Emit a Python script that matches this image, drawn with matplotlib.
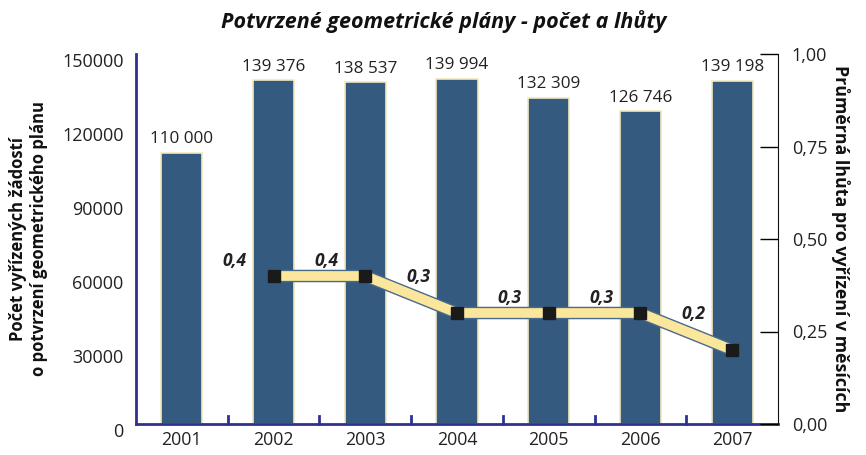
import numpy as np
import matplotlib.pyplot as plt
import matplotlib.patheffects as pe
import matplotlib.transforms as mtransforms

years = ['2001', '2002', '2003', '2004', '2005', '2006', '2007']
pocet = [110000, 139376, 138537, 139994, 132309, 126746, 139198]
pocet_labels = ['110 000', '139 376', '138 537', '139 994', '132 309', '126 746', '139 198']
lhuta_years = ['2002', '2003', '2004', '2005', '2006', '2007']
lhuta = [0.4, 0.4, 0.3, 0.3, 0.3, 0.2]
lhuta_labels = ['0,4', '0,4', '0,3', '0,3', '0,3', '0,2']
left_ticks = [0, 30000, 60000, 90000, 120000, 150000]
right_ticks = [0, 0.25, 0.5, 0.75, 1.0]
right_ticklabels = ['0,00', '0,25', '0,50', '0,75', '1,00']

plt.rcParams['font.family'] = ['Open Sans', 'DejaVu Sans']

fig = plt.figure(figsize=(8.66, 4.55), dpi=100)
ax = fig.add_axes([136/866, 1 - 424/455, 642/866, 370/455])

x = np.arange(len(years))
ax.bar(x, pocet, width=0.45, color='#355a80', edgecolor='#f3e7bd', linewidth=1.2, zorder=2)
for xi, v, lab in zip(x, pocet, pocet_labels):
    ax.annotate(lab, (xi, v), xytext=(0, 4), textcoords='offset points',
                ha='center', va='bottom', fontsize=12.3, color='#222222')

ax.set_xlim(-0.5, len(years) - 0.5)
ax.set_ylim(0, 150000)
ax.set_yticks(left_ticks)
ax.set_yticklabels([str(t) for t in left_ticks], fontsize=13, color='#222222')
ax.tick_params(axis='y', length=0, pad=9)
# labels sit a bit lower than the ticks in the original
shift = mtransforms.ScaledTranslation(0, -6/100, fig.dpi_scale_trans)
for t in ax.get_yticklabels():
    t.set_transform(t.get_transform() + shift)
ax.set_xticks(x)
ax.set_xticklabels(years, fontsize=12.8, color='#222222')
ax.tick_params(axis='x', length=0, pad=5)
for b in np.arange(0.5, len(years) - 1, 1.0):
    ax.plot([b, b], [0, 3200], color='#2e3192', lw=2, zorder=3, clip_on=False)
for s in ['top', 'right']:
    ax.spines[s].set_visible(False)
ax.spines['left'].set_color('#2e3192')
ax.spines['left'].set_linewidth(2)
ax.spines['bottom'].set_color('#2e3192')
ax.spines['bottom'].set_linewidth(2)
ax.set_ylabel('Počet vyřízených žádostí\no potvrzení geometrického plánu',
              fontsize=12, fontweight='bold', labelpad=10, color='#111111')

ax2 = ax.twinx()
ax2.set_ylim(0, 1.0)
lx = [years.index(y) for y in lhuta_years]
ax2.plot(lx, lhuta, color='#fbe79b', lw=7, solid_capstyle='butt', zorder=4,
         path_effects=[pe.Stroke(linewidth=9, foreground='#4a6a8c'), pe.Normal()])
ax2.plot(lx, lhuta, ls='none', marker='s', ms=9, color='#1a1a1a', zorder=5)
prev = None
for xi, v, lab in zip(lx, lhuta, lhuta_labels):
    dy = 26 if (prev is not None and prev > v) else 11
    ax2.annotate(lab, (xi, v), xytext=(-28, dy), textcoords='offset points',
                 ha='center', va='center', fontsize=12.5, fontweight='bold',
                 fontstyle='italic', color='#222222')
    prev = v
ax2.set_yticks(right_ticks)
ax2.set_yticklabels(right_ticklabels, fontsize=13, color='#222222')
ax2.tick_params(axis='y', direction='in', length=13, width=1, pad=10)
for s in ['top', 'left', 'bottom']:
    ax2.spines[s].set_visible(False)
ax2.spines['right'].set_color('#111111')
ax2.set_ylabel('Průměrná lhůta pro vyřízení v měsících', rotation=-90,
               fontsize=12.8, fontweight='bold', labelpad=16, color='#111111')

fig.text(444/866, 1 - 22/455, 'Potvrzené geometrické plány - počet a lhůty',
         ha='center', va='center', fontsize=15.5, fontweight='bold', fontstyle='italic',
         color='#111111')

fig.savefig('out.png', dpi=100)
